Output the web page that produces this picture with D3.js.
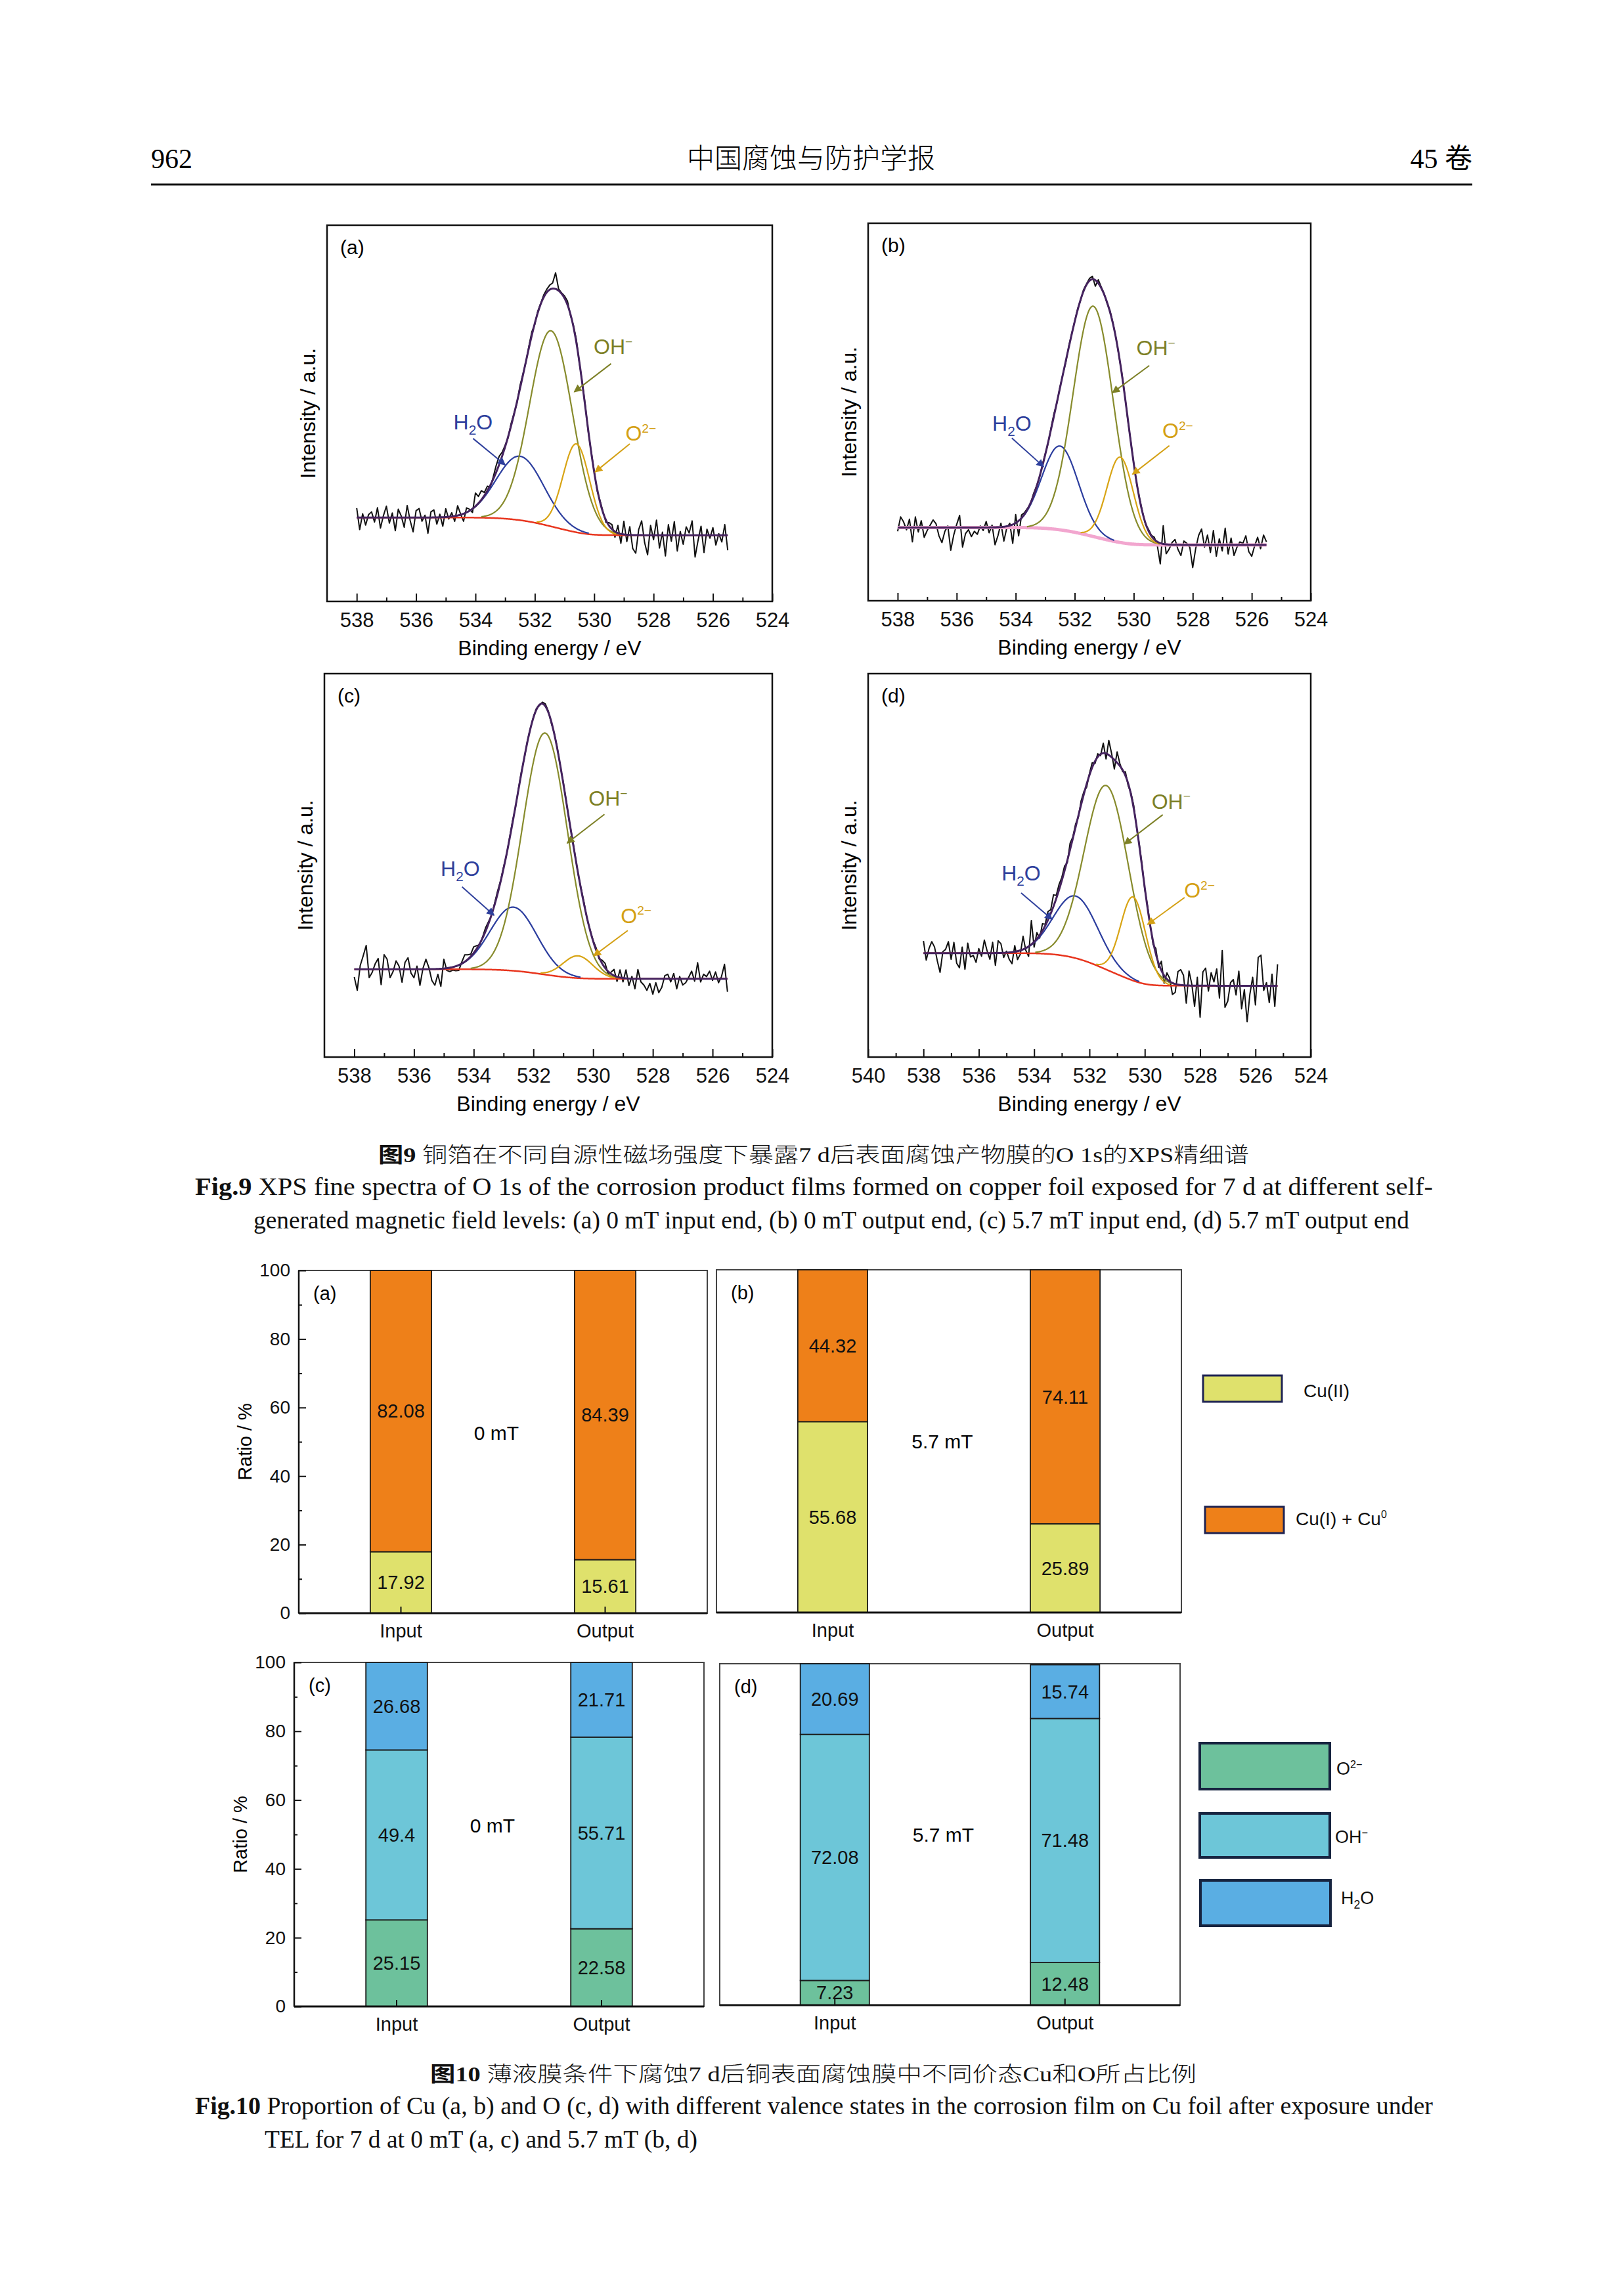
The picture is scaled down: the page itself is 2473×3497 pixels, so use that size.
<!DOCTYPE html>
<html>
<head>
<meta charset="utf-8">
<script src="https://cdn.jsdelivr.net/npm/d3@7"></script>
<style>
body { margin: 0; background: #fff; }
</style>
</head>
<body>
<svg id="page" width="2473" height="3497"></svg>
<script>
var W = 2473, H = 3497;
var sans = "'Liberation Sans', Arial, sans-serif";
var serif = "'Liberation Serif', 'Times New Roman', 'Noto Sans CJK SC', serif";
var cjk = "'Noto Sans CJK SC', sans-serif";

// ---- Fig.9 O 1s fits, each peak = [centre eV, height %, sigma eV] in order H2O, OH-, O2-
var peakKinds = ["H2O", "OH", "O2"];
var fitA = [[532.5, 17.0, 0.80], [531.45, 52.0, 0.72], [530.6, 23.5, 0.45]];
var fitB = [[532.5, 22.2, 0.62], [531.37, 61.0, 0.68], [530.46, 22.6, 0.45]];
var fitC = [[532.67, 16.6, 0.78], [531.61, 63.0, 0.75], [530.51, 5.8, 0.50]];
var fitD = [[532.5, 16.2, 0.80], [531.38, 48.0, 0.80], [530.42, 21.8, 0.45]];
// background level at the high-BE end and the low-BE end (%)
var bgA = [22.3, 17.6];
var bgB = [19.4, 14.8];
var bgC = [22.9, 20.4];
var bgD = [27.1, 18.6];
// scanned range (eV, 0.1 eV steps)
var scanA = [538, 525.5];
var scanB = [538, 525.5];
var scanC = [538, 525.5];
var scanD = [538, 525.2];
// measured counts minus the fitted envelope (%), one value per 0.1 eV from 538 eV down
var residA = [2.5,-3.2,1.0,-2.0,0.8,1.5,-1.2,2.6,-2.8,0.5,
  3.0,-1.5,1.2,-3.5,2.2,0.4,-2.6,3.2,-0.8,-3.8,
  1.8,2.4,-1.0,0.6,-4.2,1.5,2.0,-1.8,0.8,-2.4,
  2.2,-0.6,1.0,-1.4,2.6,0.2,-2.0,1.2,0.4,-1.0,
  3.5,1.8,2.4,0.8,1.2,-0.5,0.6,1.8,2.2,1.0,
  0.4,-0.3,0.6,0.2,-0.4,0.8,0.3,-0.2,0.5,0.9,
  -0.3,0.4,0.2,0.6,0.8,1.2,1.5,4.3,0.5,0.2,
  0.6,1.0,-0.3,0.4,0.8,-0.2,0.3,0.5,-0.4,0.2,
  0.3,-0.5,0.4,0.2,-0.6,0.8,1.2,-1.5,2.0,-2.5,
  3.5,-1.8,2.2,-3.6,-4.8,1.5,3.8,-2.0,-5.2,2.6,
  -1.2,4.0,-3.4,0.8,-5.5,2.8,-1.6,3.6,-4.2,1.0,
  -2.4,2.2,0.6,3.8,-5.8,-1.4,2.4,-4.6,1.6,-0.8,
  2.0,-2.6,0.4,-1.8,2.8,-4.0];
var residB = [-1.0,2.8,1.5,-0.6,2.2,-3.8,2.8,-1.2,1.8,-2.6,
  -0.8,0.6,2.0,1.0,-2.2,-4.0,-1.0,0.4,-6.0,-2.0,
  0.8,3.2,-5.2,-1.6,-0.6,-2.4,-1.0,-1.8,0.4,-0.8,
  1.6,-1.4,0.6,-4.6,-2.2,1.0,-3.8,-0.4,0.6,-5.0,
  2.2,-4.0,0.8,0.4,0.2,-0.3,0.5,0.2,-0.2,0.4,
  0.2,-0.3,0.4,0.6,-0.2,0.3,0.1,-0.4,0.3,0.2,
  0.1,0.3,-0.2,0.4,0.2,0.6,0.8,-1.6,0.9,0.3,
  0.2,-0.3,0.4,0.2,0.1,-0.2,0.3,0.2,-0.3,0.2,
  0.1,-0.2,0.3,0.2,-0.3,0.4,0.2,0.6,-1.0,-5.5,
  4.8,-2.5,-1.2,0.6,1.4,-1.2,-2.8,1.0,0.4,-0.6,
  -6.0,-1.0,2.5,4.2,-0.6,2.6,-2.0,3.8,-3.0,1.6,
  -1.6,4.4,-2.4,1.8,-2.8,-0.6,0.8,0.4,2.4,-1.8,
  -3.0,-0.2,2.0,-1.0,2.6,0.8];
var residC = [-2.0,-5.5,1.0,3.5,6.2,-2.2,-0.8,1.4,2.8,-4.0,
  3.8,2.6,-2.2,-0.6,2.2,0.8,-3.4,1.8,3.0,-1.0,
  -2.2,0.8,-4.2,0.2,2.6,0.4,-3.0,-4.2,-1.4,-4.6,
  2.4,-0.6,-1.0,-0.8,-1.2,-1.4,0.4,1.8,1.2,0.6,
  1.6,0.8,-0.3,0.3,0.9,0.5,-0.2,0.4,0.7,0.3,
  0.4,-0.2,0.3,0.5,-0.3,0.2,0.4,-0.2,0.3,0.1,
  0.2,0.3,-0.2,0.4,0.6,0.3,-0.4,0.2,0.3,-0.2,
  0.3,0.2,-0.3,0.4,0.2,-0.2,0.3,0.5,-0.3,0.2,
  0.2,0.6,-0.4,0.8,1.2,-0.6,0.4,1.6,-1.2,2.0,
  -1.0,2.2,-1.8,0.6,-2.6,2.4,-0.8,-1.6,-3.0,-1.2,
  -4.0,-1.0,-3.6,-2.2,0.8,1.2,-0.8,1.4,-2.6,0.6,
  -1.6,-1.0,0.4,2.0,-0.6,4.2,-0.8,1.2,0.6,2.0,
  -0.4,1.8,-1.0,0.6,3.8,-3.4];
var residD = [3.2,-1.8,1.2,3.0,1.6,-2.0,-5.0,0.4,1.0,3.0,
  -1.6,2.8,-2.6,-3.8,1.6,-4.2,2.6,-1.0,-0.6,-2.4,
  1.2,-0.8,3.4,0.6,-1.6,2.8,-3.2,3.2,2.4,-1.2,
  0.4,-1.8,-3.0,1.6,-2.2,-1.0,3.4,-0.6,-2.6,6.2,
  -1.4,1.6,-0.8,1.8,0.4,2.2,1.0,3.0,0.8,1.4,
  0.8,1.2,-0.6,1.6,0.4,0.8,-0.4,1.0,0.6,-0.8,
  0.4,1.2,-0.6,0.8,-0.4,2.6,-1.4,3.8,1.0,-2.4,
  2.8,0.6,-0.4,1.0,-0.6,0.4,0.8,-0.3,0.4,0.6,
  -0.4,0.6,0.2,-0.8,1.4,-1.0,2.4,-2.0,1.6,0.8,
  -3.0,-2.2,3.4,4.0,2.6,-4.6,3.8,0.4,-5.4,2.2,
  -8.2,3.6,4.6,-1.4,3.4,1.0,4.4,-3.2,9.2,-5.6,
  -4.0,0.8,1.6,-2.4,3.8,-6.0,-1.0,-9.4,-2.2,2.2,
  -5.0,7.4,8.0,-1.2,0.8,-4.4,3.0,-5.4,5.6];

// ---- Fig.10 proportions (%)
var barCats = ["Input", "Output"];
var cuKeys = ["Cu(II)", "Cu(I) + Cu0"];
var cu0mT = [[17.92, 82.08], [15.61, 84.39]];
var cu57mT = [[55.68, 44.32], [25.89, 74.11]];
var oKeys = ["O2-", "OH-", "H2O"];
var o0mT = [[25.15, 49.4, 26.68], [22.58, 55.71, 21.71]];
var o57mT = [[7.23, 72.08, 20.69], [12.48, 71.48, 15.74]];
var ratioTicks = [0, 20, 40, 60, 80, 100];
var ratioMinor = [10, 30, 50, 70, 90];

// ---- styles / layout
var fitColors = {H2O: "#2b3d9e", OH: "#878b2c", O2: "#d8a414"};
var noteColors = {H2O: "#2e3f9c", OH: "#7d8026", O2: "#d4a014"};
var envColor = "#45235f";
var cuColors = ["#dfe16c", "#ee8019"];
var oColors = ["#6dc19c", "#6dc6d8", "#5aaee3"];

var xpsBoxes = {
  a: {x0: 498, x1: 1176, y0: 343, y1: 916},
  b: {x0: 1322, x1: 1996, y0: 340, y1: 915},
  c: {x0: 494, x1: 1176, y0: 1026, y1: 1610},
  d: {x0: 1322, x1: 1996, y0: 1026, y1: 1610}
};
var barBoxes = {
  a: {x0: 455, x1: 1077, y0: 1935, y1: 2457},
  b: {x0: 1091, x1: 1799, y0: 1934, y1: 2456},
  c: {x0: 448, x1: 1072, y0: 2532, y1: 3056},
  d: {x0: 1096, x1: 1797, y0: 2534, y1: 3054}
};

// label / arrow placement in data units (eV, %)
var notesA = [
  {k: "OH", t: [529.36, 65.8], a: [529.43, 63.2, 530.67, 55.7]},
  {k: "H2O", t: [534.08, 45.7], a: [534.08, 43.3, 533.0, 36.3]},
  {k: "O2", t: [528.65, 42.8], a: [528.8, 41.9, 529.97, 34.4]}
];
var notesB = [
  {k: "OH", t: [529.25, 65.0], a: [529.47, 62.3, 530.72, 55.1]},
  {k: "H2O", t: [534.13, 45.1], a: [534.13, 43.1, 533.05, 35.5]},
  {k: "O2", t: [528.73, 43.1], a: [528.79, 41.1, 530.04, 33.5]}
];
var notesC = [
  {k: "OH", t: [529.5, 65.6], a: [529.62, 63.3, 530.87, 55.8]},
  {k: "H2O", t: [534.45, 47.2], a: [534.39, 44.4, 533.32, 37.0]},
  {k: "O2", t: [528.78, 35.0], a: [528.84, 33.0, 529.98, 26.4]}
];
var notesD = [
  {k: "OH", t: [529.05, 64.8], a: [529.35, 63.2, 530.74, 55.5]},
  {k: "H2O", t: [534.47, 46.0], a: [534.47, 42.8, 533.35, 35.9]},
  {k: "O2", t: [528.26, 41.6], a: [528.56, 41.6, 529.9, 34.6]}
];

var svg = d3.select("#page");
svg.append("rect").attr("width", W).attr("height", H).attr("fill", "#fff");

var defs = svg.append("defs");
Object.keys(noteColors).forEach(function(k) {
  defs.append("marker")
    .attr("id", "arr-" + k)
    .attr("viewBox", "0 0 10 10")
    .attr("refX", 9).attr("refY", 5)
    .attr("markerUnits", "userSpaceOnUse")
    .attr("markerWidth", 16).attr("markerHeight", 12)
    .attr("orient", "auto")
    .append("path")
    .attr("d", "M0,0L10,5L0,10z")
    .attr("fill", noteColors[k]);
});

// chemical label with sub/superscripts
function chem(sel, kind, size) {
  if (kind == "OH") {
    sel.append("tspan").text("OH");
    sel.append("tspan").attr("dy", -size * 0.38).attr("font-size", size * 0.6).text("\u2212");
  } else if (kind == "O2") {
    sel.append("tspan").text("O");
    sel.append("tspan").attr("dy", -size * 0.38).attr("font-size", size * 0.6).text("2\u2212");
  } else {
    sel.append("tspan").text("H");
    sel.append("tspan").attr("dy", size * 0.25).attr("font-size", size * 0.65).text("2");
    sel.append("tspan").attr("dy", -size * 0.25).text("O");
  }
}

// ---------------- Fig.9 ----------------
function drawXps(key, dom, fit, bg, resid, scan, notes, bgColor, bgWidth) {
  var b = xpsBoxes[key];
  var x = d3.scaleLinear().domain(dom).range([b.x0, b.x1]);
  var y = d3.scaleLinear().domain([0, 100]).range([b.y1, b.y0]);
  var g = svg.append("g");

  var nFine = Math.round((scan[0] - scan[1]) / 0.02) + 1;
  var fine = d3.range(nFine).map(function(i) { return scan[0] - i * 0.02; });
  var comps = fit.map(function(p) {
    return fine.map(function(e) { return p[1] * Math.exp(-Math.pow(e - p[0], 2) / (2 * p[2] * p[2])); });
  });
  var tot = fine.map(function(e, i) { return d3.sum(comps, function(c) { return c[i]; }); });
  // Shirley type background: step follows the peak area on the low-BE side
  var cum = [], run = 0;
  for (var i = nFine - 1; i >= 0; i--) { run += tot[i]; cum[i] = run; }
  var back = fine.map(function(e, i) { return bg[1] + (bg[0] - bg[1]) * cum[i] / run; });
  var env = back.map(function(v, i) { return v + tot[i]; });
  var raw = resid.map(function(r, k) { return {e: fine[k * 5], v: env[k * 5] + r}; });

  var line = d3.line().x(function(d) { return x(d.e); }).y(function(d) { return y(d.v); });

  g.append("path").datum(raw).attr("d", line)
    .attr("fill", "none").attr("stroke", "#111").attr("stroke-width", 2).attr("stroke-linejoin", "round");
  g.append("path").datum(fine.map(function(e, i) { return {e: e, v: back[i]}; })).attr("d", line)
    .attr("fill", "none").attr("stroke", bgColor).attr("stroke-width", bgWidth);
  comps.forEach(function(c, j) {
    var pts = fine.map(function(e, i) { return {e: e, v: back[i] + c[i], h: c[i]}; })
      .filter(function(d) { return d.h > 0.25; });
    g.append("path").datum(pts).attr("d", line)
      .attr("fill", "none").attr("stroke", fitColors[peakKinds[j]]).attr("stroke-width", 2.2);
  });
  g.append("path").datum(fine.map(function(e, i) { return {e: e, v: env[i]}; })).attr("d", line)
    .attr("fill", "none").attr("stroke", envColor).attr("stroke-width", 3);

  g.append("rect")
    .attr("x", b.x0).attr("y", b.y0).attr("width", b.x1 - b.x0).attr("height", b.y1 - b.y0)
    .attr("fill", "none").attr("stroke", "#111").attr("stroke-width", 2.5);

  var major = d3.range(524, dom[0] + 0.01, 2);
  var minor = d3.range(525, dom[0], 2);
  g.append("g")
    .attr("transform", "translate(0," + b.y1 + ")")
    .call(d3.axisBottom(x).tickValues(major).tickSizeInner(-12).tickSizeOuter(0)
      .tickPadding(17).tickFormat(d3.format("d")))
    .call(function(s) {
      s.select(".domain").remove();
      s.attr("font-size", 31).attr("font-family", sans);
      s.selectAll(".tick line").attr("stroke", "#111").attr("stroke-width", 2);
      s.selectAll(".tick text").attr("fill", "#111");
    });
  g.append("g")
    .attr("transform", "translate(0," + b.y1 + ")")
    .call(d3.axisBottom(x).tickValues(minor).tickSizeInner(-6).tickSizeOuter(0).tickFormat(""))
    .call(function(s) {
      s.select(".domain").remove();
      s.selectAll(".tick line").attr("stroke", "#111").attr("stroke-width", 2);
    });

  g.append("text")
    .attr("x", (b.x0 + b.x1) / 2).attr("y", b.y1 + 82)
    .attr("text-anchor", "middle").attr("font-family", sans).attr("font-size", 32)
    .text("Binding energy / eV");
  g.append("text")
    .attr("transform", "translate(" + (b.x0 - 18) + "," + ((b.y0 + b.y1) / 2) + ") rotate(-90)")
    .attr("text-anchor", "middle").attr("font-family", sans).attr("font-size", 32)
    .text("Intensity / a.u.");
  g.append("text")
    .attr("x", b.x0 + 20).attr("y", b.y0 + 44)
    .attr("font-family", sans).attr("font-size", 30)
    .text("(" + key + ")");

  notes.forEach(function(n) {
    g.append("line")
      .attr("x1", x(n.a[0])).attr("y1", y(n.a[1]))
      .attr("x2", x(n.a[2])).attr("y2", y(n.a[3]))
      .attr("stroke", noteColors[n.k]).attr("stroke-width", 2)
      .attr("marker-end", "url(#arr-" + n.k + ")");
    var t = g.append("text")
      .attr("x", x(n.t[0]) + (n.k == "O2" ? 10 : 0)).attr("y", y(n.t[1]))
      .attr("text-anchor", "middle").attr("font-family", sans).attr("font-size", 32)
      .attr("fill", noteColors[n.k]);
    chem(t, n.k, 32);
  });
}

drawXps("a", [539, 524], fitA, bgA, residA, scanA, notesA, "#e8351e", 2.5);
drawXps("b", [539, 524], fitB, bgB, residB, scanB, notesB, "#f2a6cf", 5);
drawXps("c", [539, 524], fitC, bgC, residC, scanC, notesC, "#e8351e", 2.5);
drawXps("d", [540, 524], fitD, bgD, residD, scanD, notesD, "#e8351e", 2.5);

// ---------------- Fig.10 ----------------
function drawBars(key, keys, rows, colors, field, fieldY, withAxis) {
  var b = barBoxes[key];
  var x = d3.scaleBand().domain(barCats).range([b.x0, b.x1]).paddingInner(0.7).paddingOuter(0.35);
  var y = d3.scaleLinear().domain([0, 100]).range([b.y1, b.y0]);
  var recs = rows.map(function(r, i) {
    var o = {cat: barCats[i]};
    keys.forEach(function(k, j) { o[k] = r[j]; });
    return o;
  });
  var series = d3.stack().keys(keys)(recs);
  var g = svg.append("g");

  g.append("rect")
    .attr("x", b.x0).attr("y", b.y0).attr("width", b.x1 - b.x0).attr("height", b.y1 - b.y0)
    .attr("fill", "#fff").attr("stroke", "#444").attr("stroke-width", 2);

  series.forEach(function(s, j) {
    g.selectAll(null).data(s).enter().append("rect")
      .attr("x", function(d) { return x(d.data.cat); })
      .attr("width", x.bandwidth())
      .attr("y", function(d) { return y(Math.min(d[1], 100)); })
      .attr("height", function(d) { return y(d[0]) - y(Math.min(d[1], 100)); })
      .attr("fill", colors[j]).attr("stroke", "#1a1a1a").attr("stroke-width", 1.8);
  });
  series.forEach(function(s) {
    g.selectAll(null).data(s).enter().append("text")
      .attr("x", function(d) { return x(d.data.cat) + x.bandwidth() / 2; })
      .attr("y", function(d) { return y((d[0] + Math.min(d[1], 100)) / 2); })
      .attr("dy", "0.35em").attr("text-anchor", "middle")
      .attr("font-family", sans).attr("font-size", 29).attr("fill", "#111")
      .text(function(d) { return d.data[s.key]; });
  });

  g.append("g")
    .attr("transform", "translate(0," + b.y1 + ")")
    .call(d3.axisBottom(x).tickSizeInner(key == "b" ? 0 : -10).tickSizeOuter(0).tickPadding(16))
    .call(function(s) {
      s.select(".domain").remove();
      s.attr("font-size", 29).attr("font-family", sans);
      s.selectAll(".tick line").attr("stroke", "#111").attr("stroke-width", 2);
      s.selectAll(".tick text").attr("fill", "#111");
    });
  g.append("line")
    .attr("x1", b.x0).attr("x2", b.x1).attr("y1", b.y1).attr("y2", b.y1)
    .attr("stroke", "#111").attr("stroke-width", 3);

  if (withAxis) {
    g.append("g")
      .attr("transform", "translate(" + b.x0 + ",0)")
      .call(d3.axisLeft(y).tickValues(ratioTicks).tickSizeInner(-11).tickSizeOuter(0).tickPadding(13))
      .call(function(s) {
        s.select(".domain").remove();
        s.attr("font-size", 28).attr("font-family", sans);
        s.selectAll(".tick line").attr("stroke", "#111").attr("stroke-width", 2);
        s.selectAll(".tick text").attr("fill", "#111");
      });
    g.append("g")
      .attr("transform", "translate(" + b.x0 + ",0)")
      .call(d3.axisLeft(y).tickValues(ratioMinor).tickSizeInner(-5).tickSizeOuter(0).tickFormat(""))
      .call(function(s) {
        s.select(".domain").remove();
        s.selectAll(".tick line").attr("stroke", "#111").attr("stroke-width", 2);
      });
    g.append("line")
      .attr("x1", b.x0).attr("x2", b.x0).attr("y1", b.y0).attr("y2", b.y1)
      .attr("stroke", "#111").attr("stroke-width", 2.5);
    g.append("text")
      .attr("transform", "translate(" + (b.x0 - 72) + "," + ((b.y0 + b.y1) / 2) + ") rotate(-90)")
      .attr("text-anchor", "middle").attr("font-family", sans).attr("font-size", 29)
      .text("Ratio / %");
  }

  var mid = (x("Input") + x("Output") + x.bandwidth()) / 2;
  g.append("text")
    .attr("x", mid - 10).attr("y", y(fieldY)).attr("dy", "0.35em")
    .attr("text-anchor", "middle").attr("font-family", sans).attr("font-size", 30)
    .text(field);
  g.append("text")
    .attr("x", b.x0 + 22).attr("y", b.y0 + 45)
    .attr("font-family", sans).attr("font-size", 29)
    .text("(" + key + ")");
}

drawBars("a", cuKeys, cu0mT, cuColors, "0 mT", 52.5, true);
drawBars("b", cuKeys, cu57mT, cuColors, "5.7 mT", 50, false);
drawBars("c", oKeys, o0mT, oColors, "0 mT", 52.5, true);
drawBars("d", oKeys, o57mT, oColors, "5.7 mT", 50, false);

// legends
var cuLegend = [
  {box: [1832, 2095, 120, 40], tx: 1985, ty: 2118},
  {box: [1835, 2295, 120, 40], tx: 1973, ty: 2313}
];
cuLegend.forEach(function(l, i) {
  svg.append("rect")
    .attr("x", l.box[0]).attr("y", l.box[1]).attr("width", l.box[2]).attr("height", l.box[3])
    .attr("fill", cuColors[i]).attr("stroke", "#1e2352").attr("stroke-width", 3);
  var t = svg.append("text").attr("x", l.tx).attr("y", l.ty).attr("dy", "0.35em")
    .attr("font-family", sans).attr("font-size", 28).attr("fill", "#111");
  if (i == 0) {
    t.text(cuKeys[0]);
  } else {
    t.append("tspan").text("Cu(I) + Cu");
    t.append("tspan").attr("dy", -11).attr("font-size", 16).text("0");
  }
});
var oLegend = [
  {k: "O2", box: [1827, 2655, 198, 70], tx: 2035, ty: 2693},
  {k: "OH", box: [1827, 2762, 198, 67], tx: 2033, ty: 2797},
  {k: "H2O", box: [1828, 2864, 198, 69], tx: 2042, ty: 2890}
];
oLegend.forEach(function(l, i) {
  svg.append("rect")
    .attr("x", l.box[0]).attr("y", l.box[1]).attr("width", l.box[2]).attr("height", l.box[3])
    .attr("fill", oColors[i]).attr("stroke", "#172440").attr("stroke-width", 4);
  var t = svg.append("text").attr("x", l.tx).attr("y", l.ty + 10)
    .attr("font-family", sans).attr("font-size", 27).attr("fill", "#111");
  chem(t, l.k, 27);
});

// ---------------- page header and captions ----------------
svg.append("text").attr("x", 230).attr("y", 256)
  .attr("font-family", serif).attr("font-size", 42).text("962");
svg.append("text").attr("x", 1235).attr("y", 256).attr("text-anchor", "middle")
  .attr("font-family", cjk).attr("font-weight", 300).attr("font-size", 42).text("中国腐蚀与防护学报");
svg.append("text").attr("x", 2242).attr("y", 256).attr("text-anchor", "end")
  .attr("font-family", serif).attr("font-size", 42).text("45 卷");
svg.append("line").attr("x1", 230).attr("x2", 2242).attr("y1", 281).attr("y2", 281)
  .attr("stroke", "#111").attr("stroke-width", 3);

function caption(x, y, len, size, bold, rest, light) {
  var t = svg.append("text").attr("x", x).attr("y", y)
    .attr("font-family", serif).attr("font-size", size).attr("fill", "#111")
    .attr("textLength", len).attr("lengthAdjust", "spacingAndGlyphs");
  if (bold) t.append("tspan").attr("font-weight", "bold").text(bold);
  t.append("tspan").attr("font-weight", light ? 300 : 400).text(rest);
}
caption(576, 1770, 1326, 32, "图9", " 铜箔在不同自源性磁场强度下暴露7 d后表面腐蚀产物膜的O 1s的XPS精细谱", true);
caption(297, 1820, 1885, 37, "Fig.9", " XPS fine spectra of O 1s of the corrosion product films formed on copper foil exposed for 7 d at different self-");
caption(386, 1871, 1760, 37, "", "generated magnetic field levels: (a) 0 mT input end, (b) 0 mT output end, (c) 5.7 mT input end, (d) 5.7 mT output end");
caption(655, 3170, 1167, 32, "图10", " 薄液膜条件下腐蚀7 d后铜表面腐蚀膜中不同价态Cu和O所占比例", true);
caption(297, 3220, 1885, 37, "Fig.10", " Proportion of Cu (a, b) and O (c, d) with different valence states in the corrosion film on Cu foil after exposure under");
caption(403, 3271, 659, 37, "", "TEL for 7 d at 0 mT (a, c) and 5.7 mT (b, d)");
</script>
</body>
</html>
